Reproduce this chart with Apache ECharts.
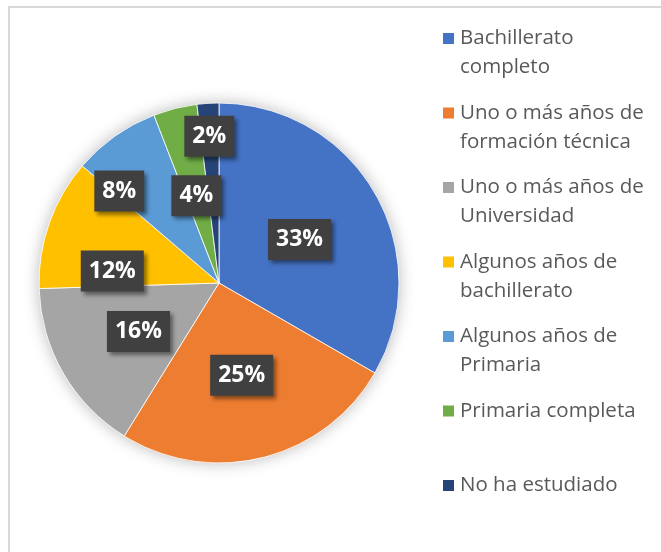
<!DOCTYPE html>
<html>
<head>
<meta charset="utf-8">
<script src="https://cdn.jsdelivr.net/npm/echarts@6/dist/echarts.min.js"></script>
<style>
  html, body { margin: 0; padding: 0; background: #fff; }
  #chart { width: 661px; height: 552px; }
</style>
</head>
<body>
<div id="chart"></div>
<script>
// Data (counts; labels show share of total)
const categories = [
  'Bachillerato completo',
  'Uno o más años de formación técnica',
  'Uno o más años de Universidad',
  'Algunos años de bachillerato',
  'Algunos años de Primaria',
  'Primaria completa',
  'No ha estudiado'
];
const counts = [17, 13, 8, 6, 4, 2, 1];
const legendText = [
  'Bachillerato\ncompleto',
  'Uno o más años de\nformación técnica',
  'Uno o más años de\nUniversidad',
  'Algunos años de\nbachillerato',
  'Algunos años de\nPrimaria',
  'Primaria completa\n',
  'No ha estudiado\n'
];

// Office palette
const colors = ['#4472C4', '#ED7D31', '#A5A5A5', '#FFC000', '#5B9BD5', '#70AD47', '#264478'];
// label nudges, mimic Excel's best-fit placement
const labelNudge = [[0, 3], [0, 2], [0, 2], [-19, 19], [-46, -16], [0, 3], [-4, -54]];

const center = [219, 283];
const radius = 180;
const lineH = 29;

const chart = echarts.init(document.getElementById('chart'));

const option = {
  backgroundColor: '#fff',
  animation: false,
  color: colors,
  graphic: [{
    type: 'rect',
    shape: { x: 9, y: 7, width: 700, height: 600 },
    style: { fill: 'none', stroke: '#d9d9d9', lineWidth: 2 },
    silent: true
  }],
  legend: {
    orient: 'vertical',
    left: 441,
    top: -5,
    padding: 0,
    itemWidth: 13,
    itemHeight: 13,
    itemGap: -12.5,
    icon: 'rect',
    data: categories,
    // blank first line keeps the icon level with the first text line
    formatter: name => '\n' + legendText[categories.indexOf(name)],
    textStyle: {
      fontFamily: 'Open Sans',
      fontSize: 20.5,
      color: '#595959',
      lineHeight: lineH,
      backgroundColor: 'rgba(0,0,0,0)'
    }
  },
  series: [
    // soft glow behind the pie
    {
      type: 'pie',
      silent: true,
      center: center,
      radius: radius,
      label: { show: false },
      labelLine: { show: false },
      itemStyle: {
        color: '#fff',
        shadowBlur: 16,
        shadowColor: 'rgba(0,0,0,0.28)'
      },
      data: [{ value: 1, name: '' }],
      z: 1
    },
    {
      type: 'pie',
      center: center,
      radius: radius,
      startAngle: 90,
      clockwise: true,
      percentPrecision: 0,
      avoidLabelOverlap: false,
      itemStyle: { borderColor: '#fff', borderWidth: 0.8 },
      label: {
        show: true,
        position: 'inside',
        formatter: '{d}%',
        fontFamily: 'Open Sans',
        fontWeight: 'bold',
        fontSize: 23,
        color: '#fff',
        lineHeight: 28,
        backgroundColor: '#404040',
        padding: [7, 8, 6, 8],
        shadowBlur: 4,
        shadowOffsetX: 3,
        shadowOffsetY: 3,
        shadowColor: 'rgba(0,0,0,0.45)'
      },
      labelLayout: params => ({
        dx: labelNudge[params.dataIndex][0],
        dy: labelNudge[params.dataIndex][1],
        hideOverlap: false
      }),
      labelLine: { show: false },
      data: categories.map((name, i) => ({ name: name, value: counts[i] })),
      z: 2
    }
  ]
};

chart.setOption(option);
</script>
</body>
</html>
